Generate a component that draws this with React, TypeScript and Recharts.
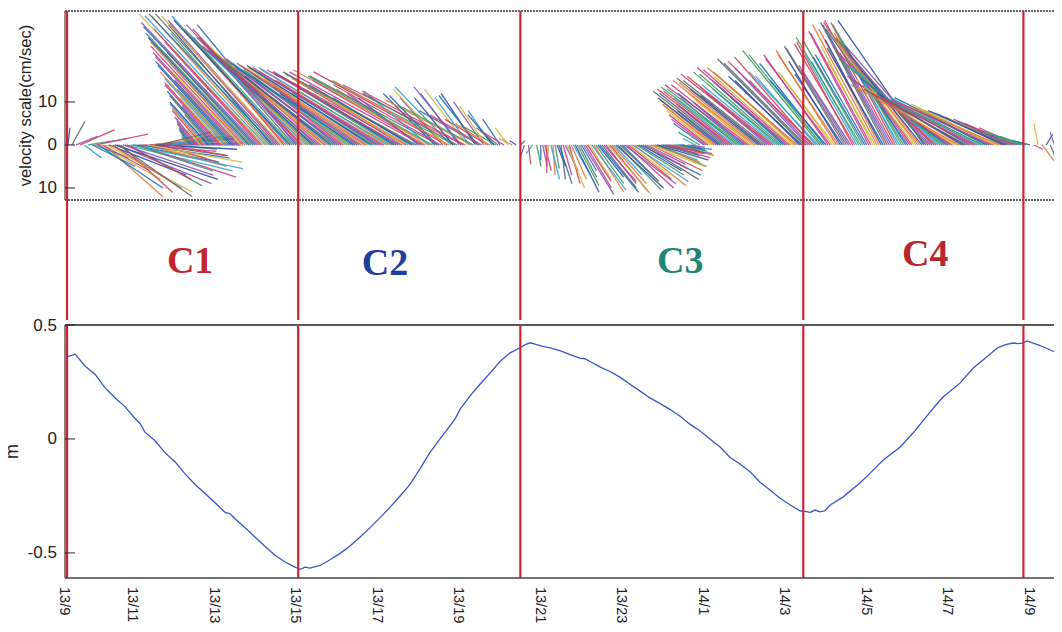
import React from "react"
import { ComposedChart, Line, Scatter, XAxis, YAxis, ReferenceLine } from "recharts"

// time axis: hours after 13/9 (day/hour), 2-hour ticks
const tickHours = [0.33, 2, 4, 6, 8, 10, 12, 14, 16, 18, 20, 22, 24]
const tickLabels = ["13/9", "13/11", "13/13", "13/15", "13/17", "13/19", "13/21", "13/23", "14/1", "14/3", "14/5", "14/7", "14/9"]

// red phase boundaries (tide extremes) and the phase names between them
const phaseBounds = [0.38, 6.05, 11.5, 18.44, 23.84]
const phaseNames = ["C1", "C2", "C3", "C4"]
const phaseLabelHours = [3.4, 8.18, 15.42, 21.43]
const phaseLabelY = [0.5, 0.48, 0.5, 0.56]
const phaseColors = ["#c4262e", "#1f3f9e", "#1f8673", "#b8262e"]

const velocityTicks = [10, 0, -10]
const levelTicks = [0.5, 0, -0.5]

// current sticks: [hour, east cm/s, north cm/s]
const sticks: [number, number, number][] = [
  [0.4, 0.5, 4], [0.5, 3, 5.5], [0.6, 5, 2], [0.7, 8, 3.5], [0.8, 4, -3], [0.9, 9, 1.5],
  [1.0, 10, -5], [1.1, 12, 2.5], [1.2, 14, -8], [1.3, 13.5, -12], [1.4, 18, -7], [1.5, 16, -10], [1.6, 22, -9], [1.7, 12, -11], [1.8, 25, -6], [1.9, 17, -9.5],
  [2.0, 20, -4], [2.1, 23, -7.5], [2.2, 15, -3], [2.3, 19, -5], [2.4, 14, 1], [2.5, 17, -2.5], [2.6, 20, 0.5], [2.7, 13, -4], [2.8, 16, 2], [2.9, 11, -1],
  [3.0, 14, 1.5], [3.1, 9, 2.5], [3.2, 6, 1], [3.3, -1, 2], [3.4, -2.5, 3.5], [3.5, -4, 5], [3.6, -5.5, 6.5], [3.7, -7, 8], [3.8, -8.5, 9.5], [3.9, -6, 7],
  [4.0, -11, 12.5], [4.1, -12.5, 14], [4.2, -10, 11], [4.3, -15.5, 17], [4.4, -17, 18.5], [4.5, -14, 15], [4.6, -20, 21.5], [4.7, -21.5, 23], [4.8, -18, 19], [4.9, -24.5, 26],
  [5.0, -26, 27.5], [5.1, -22, 24], [5.2, -29, 30.5], [5.3, -27, 30], [5.4, -24, 28], [5.5, -28, 30.5], [5.6, -26, 29], [5.7, -21, 25], [5.8, -27, 30], [5.9, -25, 27],
  [6.0, -23, 28], [6.1, -25, 27], [6.2, -22, 23], [6.3, -26, 25], [6.4, -20, 19], [6.5, -26, 23.5], [6.6, -18, 16], [6.7, -27, 22], [6.8, -22, 18], [6.9, -27, 21],
  [7.0, -19, 15], [7.1, -27, 20], [7.2, -23, 17], [7.3, -28, 19.5], [7.4, -17, 12], [7.5, -28, 19], [7.6, -22, 15], [7.7, -29, 18.5], [7.8, -18, 12], [7.9, -29, 18],
  [8.0, -24, 15], [8.1, -30, 18], [8.2, -20, 12.5], [8.3, -30, 17.5], [8.4, -16, 10], [8.5, -29, 17], [8.6, -23, 14], [8.7, -31, 17], [8.8, -18, 11], [8.9, -30, 16.5],
  [9.0, -14, 11], [9.1, -31, 17], [9.2, -21, 13], [9.3, -32, 17.5], [9.4, -12, 12], [9.5, -30, 16], [9.6, -10, 11], [9.7, -31, 17], [9.8, -13, 13.5], [9.9, -29, 15],
  [10.0, -9, 12], [10.1, -28, 14], [10.2, -10, 13], [10.3, -20, 10.5], [10.4, -8, 12], [10.5, -14, 8], [10.6, -7, 10], [10.7, -10, 6], [10.8, -5.5, 8], [10.9, -8, 4.5],
  [11.0, -4, 6], [11.1, -5, 3], [11.2, -3, 4], [11.3, -3, 1.5], [11.4, -1.5, 1], [11.5, 1, 1], [11.6, -1, -3], [11.7, 0.5, -4.5], [11.8, -1.5, -2], [11.9, 1, -5],
  [12.0, 0, -3.5], [12.1, 1.5, -6], [12.2, -0.5, -4], [12.3, 0.5, -7], [12.4, 2, -5], [12.5, 1, -8], [12.6, 3, -6], [12.7, 2.5, -9], [12.8, 4, -7], [12.9, 5, -9.5],
  [13.0, 3.5, -6], [13.1, 6, -10], [13.2, 5, -8], [13.3, 7, -11], [13.4, 6, -7.5], [13.5, 8, -10], [13.6, 7, -9], [13.7, 9, -11], [13.8, 6.5, -7], [13.9, 10, -10.5],
  [14.0, 8, -8], [14.1, 11, -10], [14.2, 9, -7], [14.3, 12, -9.5], [14.4, 10, -6], [14.5, 13, -8], [14.6, 9, -4.5], [14.7, 12, -6], [14.8, 10, -3.5], [14.9, 11, -5],
  [15.0, 8, -2], [15.1, 10, -3], [15.2, 7, -1.5], [15.3, 9, -2.5], [15.4, 6, -1], [15.5, 5, -2], [15.6, 4, -0.5], [15.7, 3, -1], [15.8, -3, 1.5], [15.9, -5, 3],
  [16.0, -7, 5], [16.1, -9, 7], [16.2, -11, 9], [16.3, -13, 10.5], [16.4, -10, 8], [16.5, -15, 12], [16.6, -12, 9.5], [16.7, -16, 12.5], [16.8, -13, 11], [16.9, -17, 13],
  [17.0, -12, 10], [17.1, -18, 14], [17.2, -15, 12], [17.3, -18, 14.5], [17.4, -14, 11.5], [17.5, -19, 15], [17.6, -16, 13.5], [17.7, -20, 16], [17.8, -15, 13], [17.9, -19, 16.5],
  [18.0, -17, 15], [18.1, -20, 17.5], [18.2, -15, 14], [18.3, -21, 18], [18.4, -17, 16], [18.5, -19, 19], [18.6, -14, 15], [18.7, -20, 19.5], [18.8, -16, 17], [18.9, -17, 21],
  [19.0, -13, 15], [19.1, -15, 20], [19.2, -13, 17], [19.3, -14, 21], [19.4, -11, 16.5], [19.5, -14, 22.5], [19.6, -12, 18.5], [19.7, -14, 23.5], [19.8, -11, 19.5], [19.9, -14, 24.5],
  [20.0, -12, 21], [20.1, -14, 26], [20.2, -11, 19.5], [20.3, -14, 27], [20.4, -13, 22.5], [20.5, -15, 28], [20.6, -12, 21.5], [20.7, -15, 28.5], [20.8, -14, 24], [20.9, -15, 25],
  [21.0, -19, 27], [21.1, -15, 21], [21.2, -19, 26], [21.3, -17, 22], [21.4, -20, 29], [21.5, -18, 20], [21.6, -21, 24], [21.7, -19, 17], [21.8, -22, 19], [21.9, -18, 14],
  [22.0, -22, 15], [22.1, -19, 12], [22.2, -23, 13.5], [22.3, -18, 11], [22.4, -22, 12.5], [22.5, -17, 10], [22.6, -23, 12.5], [22.7, -18, 9.5], [22.8, -21, 11], [22.9, -15, 8],
  [23.0, -22, 11], [23.1, -16, 8], [23.2, -20, 9.5], [23.3, -13, 6.5], [23.4, -18, 8], [23.5, -12, 5.5], [23.6, -14, 6], [23.7, -9, 4], [23.8, -10, 3.5], [23.9, -6, 2],
  [24.0, -4, 1], [24.1, 2, -1], [24.2, -1, 5], [24.3, 3, -4], [24.4, 1.5, 2.5], [24.5, 2.5, -6], [24.6, -1, 3], [24.7, 3, -8], [24.8, 1, -3],
  // samples between the tenths, where the record is dense
  [1.05, 8, -3], [1.15, 15, -10], [1.25, 11, -6], [1.35, 20, -11], [1.45, 14, -8.5], [1.55, 24, -8], [1.65, 17, -12], [1.75, 21, -7], [1.85, 15, -8], [1.95, 26, -5.5],
  [2.05, 18, -6], [2.15, 21, -3], [2.25, 17, -1.5], [2.35, 22, -4], [2.45, 16, 2], [2.55, 19, -1], [2.65, 12, 3], [2.75, 18, 0], [2.85, 14, -2.5], [2.95, 12, 2],
  [3.35, -1.5, 2.5], [3.45, -3, 4], [3.55, -4.5, 5.5], [3.65, -3, 3.5], [3.75, -7.5, 8.5], [3.85, -9, 10], [3.95, -10, 11.5],
  [4.05, -8, 9], [4.15, -13, 14.5], [4.25, -14, 15.5], [4.35, -12, 13], [4.45, -18, 19.5], [4.55, -19, 20.5], [4.65, -16, 17], [4.75, -22, 24], [4.85, -23.5, 25], [4.95, -20, 21.5],
  [5.05, -27, 28.5], [5.15, -25, 27], [5.25, -28, 30], [5.35, -23, 26], [5.45, -29, 30.5], [5.55, -25, 28], [5.65, -28, 30], [5.75, -24, 27], [5.85, -27, 29], [5.95, -22, 25],
  [6.05, -26, 28], [6.15, -24, 25], [6.25, -27, 25.5], [6.35, -21, 20], [6.45, -25, 22], [6.55, -27, 23], [6.65, -22, 19], [6.75, -26, 21.5], [6.85, -20, 16], [6.95, -28, 21],
  [7.05, -24, 18], [7.15, -21, 16], [7.25, -28, 20], [7.35, -25, 17.5], [7.45, -29, 19], [7.55, -20, 13.5], [7.65, -27, 18], [7.75, -24, 15.5], [7.85, -29, 18.5], [7.95, -21, 13.5],
  [8.05, -28, 17], [8.15, -25, 15], [8.25, -30, 18], [8.35, -22, 13.5], [8.45, -28, 16.5], [8.55, -31, 17.5], [8.65, -19, 12], [8.75, -27, 15.5], [8.85, -24, 14], [8.95, -31, 17],
  [9.05, -17, 12], [9.15, -26, 15], [9.25, -15, 12.5], [9.35, -29, 16], [9.45, -11, 11.5], [9.55, -25, 14], [9.65, -12, 13], [9.75, -27, 15], [9.85, -9, 11], [9.95, -22, 12],
  [10.05, -11, 13.5], [10.15, -24, 12.5], [10.25, -8, 11], [10.35, -17, 9], [10.45, -9, 11.5], [10.55, -12, 7], [10.65, -6, 9], [10.75, -8, 5], [10.85, -6, 7], [10.95, -5, 4],
  [12.05, 1, -5], [12.15, 0, -6.5], [12.25, 2, -8], [12.35, 1, -5.5], [12.45, 3, -9], [12.55, 2, -7], [12.65, 4, -10], [12.75, 3.5, -8], [12.85, 5.5, -11], [12.95, 4, -7.5],
  [13.05, 7, -11.5], [13.15, 5.5, -8.5], [13.25, 8, -10.5], [13.35, 6.5, -9], [13.45, 9, -11], [13.55, 7.5, -8.5], [13.65, 10, -11.5], [13.75, 8, -9], [13.85, 11, -10], [13.95, 9, -8.5],
  [14.05, 12, -9], [14.15, 10, -8], [14.25, 13, -8.5], [14.35, 11, -7], [14.45, 14, -7], [14.55, 10, -5.5], [14.65, 13, -5], [14.75, 11, -4], [14.85, 12, -3.5], [14.95, 9, -2.5],
  [15.05, 11, -2], [15.15, 8, -2], [15.25, 9, -1], [15.35, 7, -1.5], [15.45, 5, -1],
  [16.05, -8, 6], [16.15, -10, 8], [16.25, -12, 9.5], [16.35, -14, 11], [16.45, -16, 12.5], [16.55, -11, 9], [16.65, -17, 13], [16.75, -14, 11], [16.85, -18, 13.5], [16.95, -15, 12],
  [17.05, -19, 14], [17.15, -13, 10.5], [17.25, -19, 15], [17.35, -16, 13], [17.45, -20, 15.5], [17.55, -14, 12], [17.65, -21, 16.5], [17.75, -17, 14], [17.85, -20, 17], [17.95, -16, 14.5],
  [18.05, -21, 18], [18.15, -18, 16], [18.25, -19, 17], [18.35, -15, 15], [18.45, -20, 20], [18.55, -17, 18], [18.65, -18, 20.5], [18.75, -14, 16], [18.85, -18, 22], [18.95, -15, 19],
  [19.05, -15, 21], [19.15, -12, 16.5], [19.25, -14, 22], [19.35, -12, 19.5], [19.45, -14, 23], [19.55, -11, 17.5], [19.65, -13, 24], [19.75, -12, 21], [19.85, -15, 25], [19.95, -12, 20.5],
  [20.05, -14, 26.5], [20.15, -12, 23], [20.25, -15, 28], [20.35, -13, 24.5], [20.45, -15, 28.5], [20.55, -14, 25.5], [20.65, -16, 29], [20.75, -13, 24.5], [20.85, -16, 28], [20.95, -14, 23],
  [21.05, -20, 28.5], [21.15, -18, 24], [21.25, -21, 27], [21.35, -16, 20], [21.45, -21, 25], [21.55, -19, 21], [21.65, -23, 22], [21.75, -20, 18], [21.85, -24, 20], [21.95, -20, 15.5],
  [22.05, -24, 16], [22.15, -21, 13.5], [22.25, -25, 14], [22.35, -20, 12], [22.45, -24, 13], [22.55, -19, 10.5], [22.65, -24, 12], [22.75, -20, 10], [22.85, -23, 11], [22.95, -17, 8.5],
  [23.05, -23, 10.5], [23.15, -18, 8.5], [23.25, -21, 9], [23.35, -15, 7], [23.45, -17, 7.5], [23.55, -11, 5], [23.65, -12, 5], [23.75, -8, 3], [23.85, -8, 2.5],
]

// sea level (m): [hour, level]
const tide: [number, number][] = [
  [0.38, 0.36], [0.58, 0.372], [0.82, 0.32], [1.07, 0.283], [1.31, 0.225], [1.56, 0.18], [1.8, 0.142], [2.05, 0.09], [2.17, 0.068], [2.29, 0.03],
  [2.54, -0.008], [2.78, -0.06], [3.03, -0.1], [3.27, -0.152], [3.52, -0.2], [3.76, -0.238], [4.01, -0.28], [4.26, -0.322], [4.38, -0.328], [4.5, -0.35],
  [4.75, -0.39], [4.99, -0.43], [5.24, -0.472], [5.48, -0.51], [5.73, -0.54], [5.97, -0.562], [6.1, -0.572], [6.22, -0.562], [6.34, -0.567], [6.47, -0.56],
  [6.59, -0.555], [6.83, -0.53], [7.08, -0.502], [7.32, -0.47], [7.57, -0.43], [7.81, -0.39], [8.06, -0.345], [8.3, -0.3], [8.55, -0.25], [8.79, -0.2],
  [9.04, -0.13], [9.28, -0.06], [9.53, 0.0], [9.78, 0.06], [9.9, 0.088], [10.02, 0.13], [10.27, 0.19], [10.51, 0.24], [10.76, 0.29], [11.0, 0.34],
  [11.25, 0.378], [11.49, 0.4], [11.62, 0.414], [11.74, 0.422], [11.86, 0.416], [11.98, 0.41], [12.1, 0.404], [12.23, 0.4], [12.47, 0.388], [12.72, 0.37],
  [12.96, 0.355], [13.08, 0.352], [13.21, 0.34], [13.46, 0.315], [13.7, 0.296], [13.95, 0.27], [14.19, 0.24], [14.44, 0.21], [14.68, 0.18], [14.93, 0.155],
  [15.17, 0.13], [15.3, 0.114], [15.42, 0.1], [15.66, 0.065], [15.91, 0.035], [16.15, 0.0], [16.4, -0.035], [16.64, -0.08], [16.89, -0.11], [17.14, -0.145],
  [17.38, -0.19], [17.63, -0.225], [17.87, -0.26], [18.12, -0.29], [18.36, -0.315], [18.48, -0.318], [18.61, -0.322], [18.73, -0.312], [18.85, -0.32], [18.97, -0.315],
  [19.1, -0.29], [19.42, -0.254], [19.83, -0.193], [20.08, -0.15], [20.4, -0.092], [20.82, -0.035], [21.13, 0.026], [21.55, 0.118], [21.7, 0.15], [21.87, 0.184],
  [22.29, 0.246], [22.61, 0.311], [22.85, 0.346], [23.2, 0.399], [23.4, 0.414], [23.59, 0.421], [23.7, 0.418], [23.81, 0.42], [23.93, 0.43], [24.25, 0.41],
  [24.67, 0.377], [24.86, 0.36],
]

const stickColors = ["#2a4ea6", "#c93a8c", "#35a3cf", "#5d6a73", "#d4b83c", "#3f9c5e", "#8c55b5", "#e07a3c", "#1f6fb8", "#d2405a"]

const WIDTH = 1080
const HOUR_DOMAIN: [number, number] = [0.33, 24.86]
const V_DOMAIN: [number, number] = [-12.8, 31.16]
const M_DOMAIN: [number, number] = [-0.61, 0.5]
// same pixel scale on both stick axes: 4.3 px per cm/s, 40.76 px per hour
const CMS_TO_HOURS = 4.3 / 40.76
const SANS = "'Liberation Sans', Arial, Helvetica, sans-serif"
const RED = "#d3232f"

const tideData = tide.map(([h, level]) => ({ h, level }))
const phaseData = phaseNames.map((name, i) => ({ h: phaseLabelHours[i], y: phaseLabelY[i], name, color: phaseColors[i] }))

function LeftTick(props: any) {
  const { x, y, payload, format } = props
  return (
    <g>
      <line x1={x + 7} x2={x + 17} y1={y} y2={y} stroke="#222" strokeWidth={1} />
      <text x={x - 1} y={y} textAnchor="end" dominantBaseline="central" fontSize={17} fill="#222" fontFamily={SANS}>
        {format(payload.value)}
      </text>
    </g>
  )
}

function RightTick(props: any) {
  const { x, y } = props
  return <line x1={x - 9} x2={x} y1={y} y2={y} stroke="#222" strokeWidth={1} />
}

function TimeTick(props: any) {
  const { x, y, payload } = props
  const label = tickLabels[tickHours.indexOf(payload.value)]
  return (
    <text x={x} y={y} transform={`rotate(90, ${x}, ${y})`} textAnchor="start" dominantBaseline="central" fontSize={14.5} fill="#222" fontFamily={SANS}>
      {label}
    </text>
  )
}

function AxisTitle(props: any) {
  const { viewBox, value, cx, size } = props
  const cy = viewBox ? viewBox.y + viewBox.height / 2 : 0
  return (
    <text x={cx} y={cy} transform={`rotate(-90, ${cx}, ${cy})`} textAnchor="middle" dominantBaseline="central" fontSize={size} fill="#222" fontFamily={SANS}>
      {value}
    </text>
  )
}

function PhaseLabel(props: any) {
  const { cx, cy, payload } = props
  return (
    <text x={cx} y={cy} textAnchor="middle" dominantBaseline="central" fontSize={38} fontWeight="bold" fill={payload.color} fontFamily="'Liberation Serif', 'Times New Roman', serif">
      {payload.name}
    </text>
  )
}

function PhaseLines() {
  return phaseBounds.map((h) => (
    <ReferenceLine key={h} x={h} stroke={RED} strokeWidth={2.2} ifOverflow="visible" />
  ))
}

export default function App() {
  return (
    <div style={{ position: "relative", width: 1062, height: 632, margin: -8, overflow: "hidden", background: "#fff" }}>
      {/* velocity sticks */}
      <div style={{ position: "absolute", left: 0, top: 0 }}>
        <ComposedChart width={WIDTH} height={205} margin={{ top: 11, right: 0, bottom: 5, left: 0 }}>
          <XAxis type="number" dataKey="h" domain={HOUR_DOMAIN} allowDataOverflow hide />
          <YAxis
            type="number"
            domain={V_DOMAIN}
            allowDataOverflow
            ticks={velocityTicks}
            interval={0}
            width={65}
            tickSize={0}
            tickMargin={7}
            tickLine={false}
            axisLine={{ stroke: "#444", strokeWidth: 1.2 }}
            tick={(p: any) => <LeftTick {...p} format={(v: number) => String(Math.abs(v))} />}
            label={<AxisTitle value="velocity scale(cm/sec)" cx={25} size={16.5} />}
          />
          <YAxis
            yAxisId="r"
            orientation="right"
            type="number"
            domain={V_DOMAIN}
            allowDataOverflow
            ticks={velocityTicks}
            interval={0}
            width={15}
            tickSize={0}
            tickMargin={0}
            tickLine={false}
            axisLine={false}
            tick={(p: any) => <RightTick {...p} />}
          />
          {sticks.map(([h, u, v], i) => (
            <ReferenceLine
              key={h}
              segment={[{ x: h, y: 0 }, { x: h + u * CMS_TO_HOURS, y: v }]}
              stroke={stickColors[(i * 3) % stickColors.length]}
              strokeWidth={1.3}
              strokeOpacity={0.9}
              ifOverflow="hidden"
            />
          ))}
          <ReferenceLine y={V_DOMAIN[1]} stroke="#333" strokeWidth={1.6} strokeDasharray="2 1" />
          <ReferenceLine y={V_DOMAIN[0]} stroke="#333" strokeWidth={1.6} strokeDasharray="2 1" />
          {PhaseLines()}
        </ComposedChart>
      </div>

      {/* phase labels */}
      <div style={{ position: "absolute", left: 0, top: 195 }}>
        <ComposedChart width={WIDTH} height={125} data={phaseData} margin={{ top: 5, right: 15, bottom: 0, left: 65 }}>
          <XAxis type="number" dataKey="h" domain={HOUR_DOMAIN} allowDataOverflow hide />
          <YAxis type="number" dataKey="y" domain={[0, 1]} hide />
          {PhaseLines()}
          <Scatter dataKey="y" isAnimationActive={false} shape={(p: any) => <PhaseLabel {...p} />} />
        </ComposedChart>
      </div>

      {/* sea level */}
      <div style={{ position: "absolute", left: 0, top: 308 }}>
        <ComposedChart width={WIDTH} height={324} data={tideData} margin={{ top: 17, right: 0, bottom: 0, left: 0 }}>
          <XAxis
            type="number"
            dataKey="h"
            domain={HOUR_DOMAIN}
            allowDataOverflow
            ticks={tickHours}
            interval={0}
            height={54}
            tickSize={0}
            tickMargin={9}
            tickLine={false}
            axisLine={{ stroke: "#444", strokeWidth: 1.5 }}
            tick={(p: any) => <TimeTick {...p} />}
          />
          <YAxis
            type="number"
            domain={M_DOMAIN}
            allowDataOverflow
            ticks={levelTicks}
            interval={0}
            width={65}
            tickSize={0}
            tickMargin={7}
            tickLine={false}
            axisLine={{ stroke: "#333", strokeWidth: 1.2 }}
            tick={(p: any) => <LeftTick {...p} format={(v: number) => String(v)} />}
            label={<AxisTitle value="m" cx={12} size={18} />}
          />
          <YAxis
            yAxisId="r"
            orientation="right"
            type="number"
            domain={M_DOMAIN}
            allowDataOverflow
            ticks={levelTicks}
            interval={0}
            width={15}
            tickSize={0}
            tickMargin={0}
            tickLine={false}
            axisLine={false}
            tick={(p: any) => <RightTick {...p} />}
          />
          <ReferenceLine y={M_DOMAIN[1]} stroke="#222" strokeWidth={1.6} />
          <Line type="linear" dataKey="level" stroke="#3557c8" strokeWidth={1.3} dot={false} isAnimationActive={false} />
          {PhaseLines()}
        </ComposedChart>
      </div>
    </div>
  )
}
